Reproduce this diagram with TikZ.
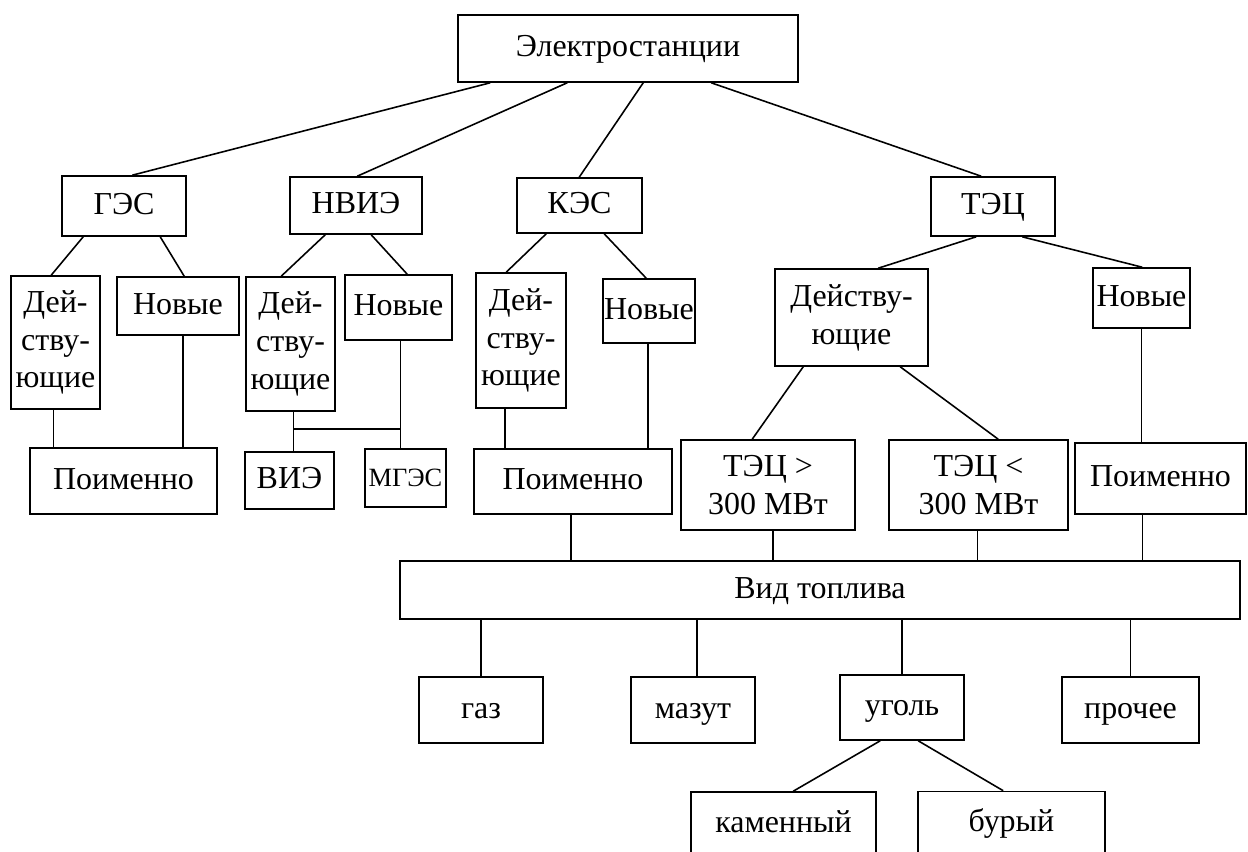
\documentclass[tikz,border=0pt]{standalone}
\usepackage{fontspec}
\setmainfont{Liberation Serif}
\usetikzlibrary{calc}

\tikzset{
  box/.style={draw, line width=.9pt, inner sep=0pt, align=center,
    font=\fontsize{18.2}{21.5}\selectfont},
  word/.style={box, text height=13.6pt, text depth=4pt},
  sz/.style 2 args={minimum width=#1*0.02cm, minimum height=#2*0.02cm},
  link/.style={line width=.9pt},
}

\begin{document}
\begin{tikzpicture}[x=0.02cm, y=-0.02cm]
\useasboundingbox (0,0) rectangle (1248,852);

\node[word, sz={340}{67}] (plants) at (628,48.5) {Электростанции};

\node[word, sz={124}{60}] (ges) at (124,206) {ГЭС};
\node[word, sz={132}{57}] (nvie) at (356,205.5) {НВИЭ};
\node[word, sz={125}{55}] (kes) at (579.5,205.5) {КЭС};
\node[word, sz={124}{59}] (tec) at (993,206.5) {ТЭЦ};

\node[box, sz={89}{133}] (gesold) at (55.5,342.5) {Дей-\\ству-\\ющие};
\node[word, sz={122}{58}] (gesnew) at (178,306) {Новые};
\node[box, sz={89}{134}] (nvieold) at (290.5,344) {Дей-\\ству-\\ющие};
\node[word, sz={107}{65}] (nvienew) at (398.5,307.5) {Новые};
\node[box, sz={90}{135}] (kesold) at (521,340.5) {Дей-\\ству-\\ющие};
\node[word, sz={92}{64}] (kesnew) at (649,311) {Новые};
\node[box, sz={153}{97}] (tecold) at (851.5,317.5) {Действу-\\ющие};
\node[word, sz={97}{60}] (tecnew) at (1141.5,298) {Новые};

\node[word, sz={187}{66}] (gesnamed) at (123.5,481) {Поименно};
\node[word, sz={89}{57}] (vie) at (289.5,480.5) {ВИЭ};
\node[word, sz={81}{58}, font=\fontsize{15}{18}\selectfont] (mges) at (405.5,478) {МГЭС};
\node[word, sz={198}{65}] (kesnamed) at (573,481.5) {Поименно};
\node[box, sz={174}{90}] (tecbig) at (768,485) {ТЭЦ >\\300 МВт};
\node[box, sz={179}{90}] (tecsmall) at (978.5,485) {ТЭЦ <\\300 МВт};
\node[word, sz={171}{71}] (tecnamed) at (1160.5,478.5) {Поименно};

\node[word, sz={840}{58}] (fuel) at (820,590) {Вид топлива};

\node[word, sz={124}{66}] (gas) at (481,710) {газ};
\node[word, sz={124}{66}] (mazut) at (693,710) {мазут};
\node[word, sz={124}{65}] (coal) at (902,707.5) {уголь};
\node[word, sz={137}{66}] (other) at (1130.5,710) {прочее};
\node[word, sz={185}{64}] (hard) at (783.5,824) {каменный};
\node[word, sz={187}{64}] (brown) at (1011.5,823.5) {бурый};

\draw[link] ($(plants.south west)+(33,0)$) -- ($(ges.north west)+(71,0)$);
\draw[link] ($(plants.south west)+(110,0)$) -- ($(nvie.north west)+(68,0)$);
\draw[link] ($(plants.south west)+(186,0)$) -- ($(kes.north west)+(63,0)$);
\draw[link] ($(plants.south west)+(254,0)$) -- ($(tec.north west)+(51,0)$);

\draw[link] ($(ges.south west)+(22,0)$) -- ($(gesold.north west)+(41,0)$);
\draw[link] ($(ges.south west)+(99,0)$) -- ($(gesnew.north west)+(68,0)$);
\draw[link] ($(nvie.south west)+(36,0)$) -- ($(nvieold.north west)+(36,0)$);
\draw[link] ($(nvie.south west)+(82,0)$) -- ($(nvienew.north west)+(63,0)$);
\draw[link] ($(kes.south west)+(30,0)$) -- ($(kesold.north west)+(31,0)$);
\draw[link] ($(kes.south west)+(88,0)$) -- ($(kesnew.north west)+(44,0)$);
\draw[link] ($(tec.south west)+(46,0)$) -- ($(tecold.north west)+(104,0)$);
\draw[link] ($(tec.south west)+(92,0)$) -- ($(tecnew.north west)+(50,0)$);

\draw[link] ($(gesold.south)+(-2,0)$) coordinate (g1) -- (g1 |- gesnamed.north);
\draw[link] ($(gesnew.south)+(5,0)$) coordinate (g2) -- (g2 |- gesnamed.north);
\draw[link] ($(nvieold.south)+(3,0)$) coordinate (n1) -- (n1 |- vie.north);
\draw[link] ($(nvienew.south)+(2,0)$) coordinate (n2) -- (n2 |- mges.north);
\draw[link] ($(n1)!.44!(n1 |- vie.north)$) coordinate (n3) -- (n3 -| n2);
\draw[link] ($(kesold.south)+(-16,0)$) coordinate (k1) -- (k1 |- kesnamed.north);
\draw[link] ($(kesnew.south)+(-1,0)$) coordinate (k2) -- (k2 |- kesnamed.north);
\draw[link] ($(tecnew.south)+(0,0)$) coordinate (t1) -- (t1 |- tecnamed.north);
\draw[link] ($(tecold.south west)+(29,0)$) -- ($(tecbig.north west)+(72,0)$);
\draw[link] ($(tecold.south west)+(126,0)$) -- ($(tecsmall.north west)+(110,0)$);

\draw[link] ($(kesnamed.south)+(-2,0)$) coordinate (f1) -- (f1 |- fuel.north);
\draw[link] ($(tecbig.south)+(5,0)$) coordinate (f2) -- (f2 |- fuel.north);
\draw[link] ($(tecsmall.south)+(-1,0)$) coordinate (f3) -- (f3 |- fuel.north);
\draw[link] ($(tecnamed.south)+(-18,0)$) coordinate (f4) -- (f4 |- fuel.north);

\draw[link] (gas.north) -- (gas.north |- fuel.south);
\draw[link] ($(mazut.north)+(4,0)$) coordinate (m1) -- (m1 |- fuel.south);
\draw[link] (coal.north) -- (coal.north |- fuel.south);
\draw[link] (other.north) -- (other.north |- fuel.south);

\draw[link] ($(coal.south west)+(41,0)$) -- ($(hard.north west)+(103,0)$);
\draw[link] ($(coal.south west)+(79,0)$) -- ($(brown.north west)+(86,0)$);
\end{tikzpicture}
\end{document}
